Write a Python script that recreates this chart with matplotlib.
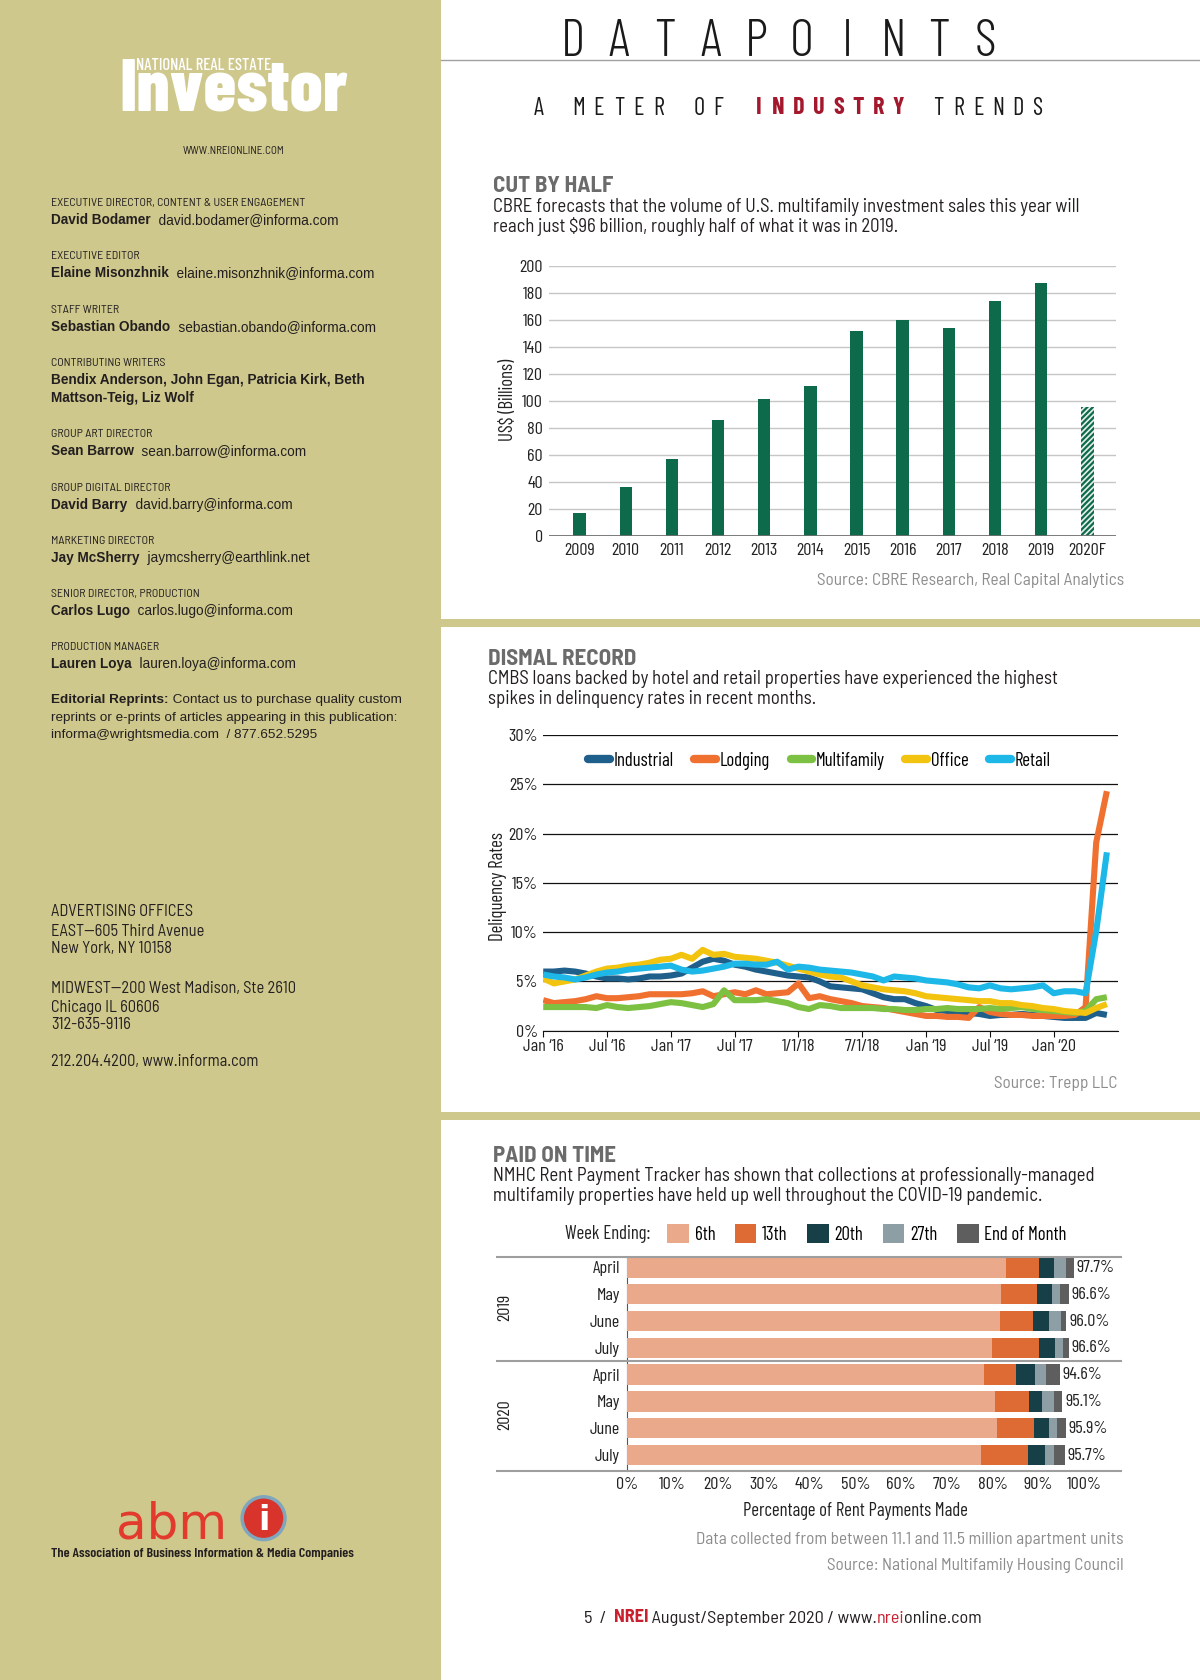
import matplotlib
matplotlib.use("Agg")
import matplotlib.pyplot as plt
from matplotlib.patches import Rectangle, Circle, Patch
from matplotlib.lines import Line2D
import numpy as np

# page is laid out in the coordinates of the 1120x1568 preview
W, H = 1120, 1568
COND = ["Barlow Condensed", "DejaVu Sans"]
SEMI = ["Barlow Semi Condensed", "DejaVu Sans"]
SANS = ["Liberation Sans", "DejaVu Sans"]

KHAKI = "#cfc88c"
DARK = "#231f20"
HEAD = "#6b6b6b"
SRC = "#8c8c8c"
RED = "#a3182d"
GREEN = "#0d6b4c"

plt.rcParams["font.family"] = COND
plt.rcParams["hatch.linewidth"] = 1.6

# ---- chart 1: multifamily investment volume
years = ["2009", "2010", "2011", "2012", "2013", "2014", "2015", "2016", "2017", "2018", "2019", "2020F"]
volume = [17, 36, 57, 86, 101, 111, 152, 160, 154, 174, 187, 95]

# ---- chart 2: CMBS delinquency, monthly Jan 2016 - Jun 2020
month_ticks = [0, 6, 12, 18, 24, 30, 36, 42, 48]
month_labels = ["Jan \u201816", "Jul \u201816", "Jan \u201817", "Jul \u201817", "1/1/18",
                "7/1/18", "Jan \u201819", "Jul \u201819", "Jan \u201820"]
industrial = [6.0, 6.0, 6.1, 6.0, 5.8, 5.5, 5.3, 5.3, 5.2, 5.3, 5.5, 5.5,
              5.6, 5.8, 6.4, 7.0, 7.3, 7.1, 6.7, 6.5, 6.2, 6.0, 5.8, 5.6,
              5.5, 5.4, 5.0, 4.5, 4.4, 4.3, 4.2, 3.8, 3.4, 3.2, 3.2, 2.8,
              2.5, 2.1, 2.0, 1.9, 1.8, 1.7, 1.5, 1.6, 1.6, 1.7, 1.6, 1.5,
              1.4, 1.3, 1.3, 1.3, 1.8, 1.6]
lodging = [3.1, 2.8, 2.9, 3.0, 3.2, 3.5, 3.3, 3.3, 3.4, 3.5, 3.7, 3.7,
           3.7, 3.7, 3.8, 4.0, 3.5, 3.7, 3.9, 3.7, 4.1, 3.7, 3.8, 3.9,
           4.8, 3.3, 3.5, 3.2, 3.0, 2.8, 2.5, 2.4, 2.3, 2.1, 1.9, 1.7,
           1.5, 1.5, 1.4, 1.4, 1.3, 2.4, 1.9, 1.7, 1.6, 1.6, 1.5, 1.5,
           1.5, 1.5, 1.6, 2.4, 19.1, 24.3]
multifamily = [2.4, 2.4, 2.4, 2.4, 2.4, 2.3, 2.6, 2.4, 2.3, 2.4, 2.5, 2.7,
               2.9, 2.8, 2.6, 2.4, 2.7, 4.1, 3.1, 3.1, 3.1, 3.2, 3.0, 2.8,
               2.4, 2.2, 2.6, 2.5, 2.3, 2.3, 2.3, 2.3, 2.2, 2.2, 2.1, 2.1,
               2.2, 2.2, 2.3, 2.2, 2.2, 2.2, 2.3, 2.2, 2.3, 2.4, 2.2, 2.1,
               2.0, 1.9, 1.8, 2.0, 3.2, 3.4]
office = [5.3, 4.8, 5.0, 5.2, 5.6, 6.0, 6.3, 6.4, 6.6, 6.7, 6.9, 7.2,
          7.3, 7.7, 7.3, 8.2, 7.7, 7.8, 7.5, 7.4, 7.3, 7.1, 6.9, 6.6,
          6.3, 6.0, 5.7, 5.5, 5.4, 5.0, 4.6, 4.4, 4.2, 4.1, 4.0, 3.8,
          3.5, 3.4, 3.3, 3.2, 3.1, 3.0, 3.0, 2.8, 2.8, 2.6, 2.5, 2.3,
          2.2, 2.0, 1.9, 1.8, 2.3, 2.7]
retail = [5.7, 5.5, 5.4, 5.2, 5.4, 5.7, 5.9, 6.0, 6.2, 6.3, 6.4, 6.5,
          6.6, 6.2, 6.0, 6.1, 6.3, 6.5, 6.8, 6.8, 6.7, 6.7, 7.0, 6.2,
          6.5, 6.4, 6.2, 6.1, 6.0, 5.9, 5.7, 5.5, 5.1, 5.5, 5.4, 5.3,
          5.1, 5.0, 4.9, 4.7, 4.4, 4.3, 4.6, 4.3, 4.2, 4.3, 4.4, 4.6,
          3.8, 4.0, 4.0, 3.8, 10.1, 18.1]
sectors = ["Industrial", "Lodging", "Multifamily", "Office", "Retail"]
sector_colors = ["#1f5f8b", "#f07030", "#7dc142", "#f2c40f", "#1db8e8"]

# ---- chart 3: cumulative rent paid by week ending (percent)
rent_months = ["April", "May", "June", "July", "April", "May", "June", "July"]
rent_years = ["2019", "2020"]
weeks = ["6th", "13th", "20th", "27th", "End of Month"]
week_colors = ["#e9a98a", "#dd6b33", "#173f47", "#8e9ea5", "#5e5e5e"]
paid_6th = [82.9, 81.7, 81.5, 79.8, 78.0, 80.4, 80.9, 77.5]
paid_13th = [90.2, 89.7, 88.9, 90.2, 85.0, 87.9, 89.1, 87.7]
paid_20th = [93.3, 92.9, 92.2, 93.5, 89.3, 90.8, 92.2, 91.5]
paid_27th = [95.9, 94.8, 95.0, 95.3, 91.7, 93.4, 94.1, 93.4]
paid_end = [97.7, 96.6, 96.0, 96.6, 94.6, 95.1, 95.9, 95.7]

# ---- masthead
staff_titles = ["EXECUTIVE DIRECTOR, CONTENT & USER ENGAGEMENT", "EXECUTIVE EDITOR", "STAFF WRITER",
                "CONTRIBUTING WRITERS", "GROUP ART DIRECTOR", "GROUP DIGITAL DIRECTOR",
                "MARKETING DIRECTOR", "SENIOR DIRECTOR, PRODUCTION", "PRODUCTION MANAGER"]
staff_names = ["David Bodamer", "Elaine Misonzhnik", "Sebastian Obando",
               "Bendix Anderson, John Egan, Patricia Kirk, Beth", "Sean Barrow", "David Barry",
               "Jay McSherry", "Carlos Lugo", "Lauren Loya"]
staff_emails = ["david.bodamer@informa.com", "elaine.misonzhnik@informa.com",
                "sebastian.obando@informa.com", "", "sean.barrow@informa.com",
                "david.barry@informa.com", "jaymcsherry@earthlink.net",
                "carlos.lugo@informa.com", "lauren.loya@informa.com"]
staff_y = [189, 239, 289, 339, 405, 455, 505, 554, 604]


def rect(x0, y0, x1, y1):
    return [x0 / W, 1 - y1 / H, (x1 - x0) / W, (y1 - y0) / H]


fig = plt.figure(figsize=(12, 16.8), dpi=100)
bg = fig.add_axes([0, 0, 1, 1], zorder=0)
bg.set_xlim(0, W)
bg.set_ylim(H, 0)
bg.axis("off")
bg.add_patch(Rectangle((0, 0), 412, H, color=KHAKI, lw=0))
bg.add_patch(Rectangle((412, 578), W - 412, 7, color=KHAKI, lw=0))
bg.add_patch(Rectangle((412, 1038), W - 412, 7, color=KHAKI, lw=0))
bg.plot([412, W], [56, 56], color="#a0a0a0", lw=1)


def chain(x, y, parts, size, family):
    t = None
    for s, weight, color in parts:
        if t is None:
            t = bg.text(x, y, s, fontsize=size, fontweight=weight, color=color,
                        family=family, va="center", ha="left")
        else:
            t = bg.annotate(s, xy=(1, 0), xycoords=t, va="bottom", ha="left", fontsize=size,
                            fontweight=weight, color=color, family=family)
    return t


# ---- left column
bg.text(111, 103, "Investor", fontsize=53, fontweight=800, color="white", va="baseline")
bg.text(127, 61, "NATIONAL REAL ESTATE", fontsize=12, fontweight=500, color="white", va="center")
bg.text(218, 141, "WWW.NREIONLINE.COM", fontsize=8, color=DARK, family=SEMI, va="center", ha="center")

for title, name, mail, y in zip(staff_titles, staff_names, staff_emails, staff_y):
    bg.text(48, y, title, fontsize=8.6, color=DARK, family=SEMI, va="center")
    chain(48, y + 16, [(name, "bold", DARK), ("  " + mail, "normal", DARK)], 9.8, SANS)
    if title == "CONTRIBUTING WRITERS":
        bg.text(48, y + 32, "Mattson-Teig, Liz Wolf", fontsize=9.8, fontweight="bold",
                color=DARK, family=SANS, va="center")

chain(48, 653, [("Editorial Reprints:", "bold", DARK),
                (" Contact us to purchase quality custom", "normal", DARK)], 9.7, SANS)
bg.text(48, 670, "reprints or e-prints of articles appearing in this publication:",
        fontsize=9.7, color=DARK, family=SANS, va="center")
bg.text(48, 686, "informa@wrightsmedia.com  / 877.652.5295", fontsize=9.7, color=DARK,
        family=SANS, va="center")

office_lines = [(851, "ADVERTISING OFFICES"), (869, "EAST\u2014605 Third Avenue"),
                (885, "New York, NY 10158"), (923, "MIDWEST\u2014200 West Madison, Ste 2610"),
                (940, "Chicago IL 60606"), (956, "312-635-9116"),
                (991, "212.204.4200, www.informa.com")]
for y, s in office_lines:
    bg.text(48, y, s, fontsize=11.8, color=DARK, family=SEMI, va="center")

bg.text(108, 1436, "abm", fontsize=36, color="#e23b2e", family=["DejaVu Sans"], va="baseline")
bg.add_patch(Circle((246, 1417), 20, facecolor="#d8342c", edgecolor="#7fa6bd", lw=2.5))
bg.text(246, 1419, "i", fontsize=24, fontweight="bold", color="white", ha="center",
        va="center", family=["DejaVu Sans"])
bg.text(48, 1450, "The Association of Business Information & Media Companies", fontsize=10.2,
        fontweight=600, color=DARK, va="center")

# ---- right column headings
for i, ch in enumerate("DATAPOINTS"):
    bg.text(535 + i * 42.7, 40, ch, fontsize=38, fontweight=300, color="#1a1a1a",
            ha="center", va="center")
tagline = "A METER OF INDUSTRY TRENDS"
for i, ch in enumerate(tagline):
    red = 11 <= i <= 18
    bg.text(503 + i * 18.64, 101, ch, fontsize=17.5, ha="center", va="center",
            color=RED if red else "#1a1a1a", fontweight="bold" if red else "normal")

heads = [(460, 174, "CUT BY HALF",
          ["CBRE forecasts that the volume of U.S. multifamily investment sales this year will",
           "reach just $96 billion, roughly half of what it was in 2019."]),
         (455, 615, "DISMAL RECORD",
          ["CMBS loans backed by hotel and retail properties have experienced the highest",
           "spikes in delinquency rates in recent months."]),
         (460, 1079, "PAID ON TIME",
          ["NMHC Rent Payment Tracker has shown that collections at professionally-managed",
           "multifamily properties have held up well throughout the COVID-19 pandemic."])]
for x, y, head, desc in heads:
    bg.text(x, y, head, fontsize=16.5, fontweight="bold", color=HEAD, family=SEMI, va="center")
    for k, line in enumerate(desc):
        bg.text(x, y + 19 + 18 * k, line, fontsize=13.5, color=DARK, family=SEMI, va="center")

# ---- chart 1
ax1 = fig.add_axes(rect(512, 248, 1042, 500), zorder=2)
ax1.set_facecolor("none")
xb = np.arange(len(years))
ax1.bar(xb[:-1], volume[:-1], width=0.27, color=GREEN, zorder=3)
ax1.bar(xb[-1:], volume[-1:], width=0.27, facecolor="#e6efe9", edgecolor=GREEN,
        hatch="//////", lw=0, zorder=3)
ax1.set_xlim(-0.673, 11.63)
ax1.set_ylim(0, 200)
ax1.set_yticks(range(0, 201, 20))
ax1.set_xticks(xb, years)
ax1.grid(axis="y", color="#c6c6c6", lw=1, zorder=0)
ax1.axhline(0, color="#707070", lw=2, zorder=4)
for s in ax1.spines.values():
    s.set_visible(False)
ax1.tick_params(axis="y", length=0, labelsize=13, labelcolor="#222", pad=4)
ax1.tick_params(axis="x", length=0, labelsize=13, labelcolor="#222", pad=5)
bg.text(474, 373, "US$ (Billions)", rotation=90, fontsize=13.5, color="#222", ha="center", va="center")
bg.text(1049, 542, "Source: CBRE Research, Real Capital Analytics", fontsize=12.4, color=SRC,
        family=SEMI, ha="right", va="center")

# ---- chart 2
ax2 = fig.add_axes(rect(507, 686, 1043, 962), zorder=2)
ax2.set_facecolor("none")
xm = np.arange(len(industrial))
for name, vals, col in zip(sectors, [industrial, lodging, multifamily, office, retail], sector_colors):
    ax2.plot(xm, vals, color=col, lw=4.4, solid_capstyle="butt", solid_joinstyle="round", zorder=3)
ax2.set_xlim(0, 54)
ax2.set_ylim(0, 30)
ax2.set_yticks(range(0, 31, 5), [f"{v}%" for v in range(0, 31, 5)])
ax2.set_xticks(month_ticks, month_labels)
ax2.grid(axis="y", color="#111", lw=0.9, zorder=1)
for k in ["top", "right", "left"]:
    ax2.spines[k].set_visible(False)
ax2.spines["bottom"].set_color("#111")
ax2.tick_params(axis="y", length=0, labelsize=13, labelcolor="#222", pad=4)
ax2.tick_params(axis="x", length=4, direction="out", color="#111", labelsize=13,
                labelcolor="#222", pad=2)
handles = [Line2D([], [], color=c, lw=6, solid_capstyle="round") for c in sector_colors]
ax2.legend(handles, sectors, loc="center", bbox_to_anchor=(0.481, 0.913), ncol=5, frameon=False,
           fontsize=13.5, handlelength=1.15, handletextpad=0.2, columnspacing=1.1,
           borderpad=0, borderaxespad=0)
bg.text(465, 827, "Deliquency Rates", rotation=90, fontsize=13.5, color="#222", ha="center", va="center")
bg.text(1043, 1011, "Source: Trepp LLC", fontsize=12.4, color=SRC, family=SEMI, ha="right", va="center")

# ---- chart 3
ax3 = fig.add_axes(rect(585, 1173, 1047, 1373), zorder=2)
ax3.set_facecolor("none")
rows = np.arange(len(rent_months))
prev = np.zeros(len(rows))
for name, cum, col in zip(weeks, [paid_6th, paid_13th, paid_20th, paid_27th, paid_end], week_colors):
    cum = np.array(cum)
    ax3.barh(rows, cum - prev, left=prev, height=0.76, color=col, label=name, zorder=3)
    prev = cum
for r, tot in zip(rows, paid_end):
    ax3.text(tot + 0.7, r, f"{tot:.1f}%", fontsize=13, color="#222", va="center", ha="left")
ax3.set_xlim(0, 108.2)
ax3.set_ylim(7.6, -0.4)
ax3.set_yticks(rows, rent_months)
ax3.set_xticks(range(0, 101, 10), [f"{v}%" for v in range(0, 101, 10)])
for k in ["top", "right", "bottom"]:
    ax3.spines[k].set_visible(False)
ax3.spines["left"].set_color("#555")
ax3.tick_params(axis="y", length=0, labelsize=13, labelcolor="#222", pad=5)
ax3.tick_params(axis="x", length=0, labelsize=13, labelcolor="#222", pad=4)
ax3.hlines([-0.4, 3.5, 7.6], -28.6, 108.2, colors="#9e9e9e", lw=1.5, clip_on=False, zorder=4)
for i, yr in enumerate(rent_years):
    ax3.text(-26.7, rows[i * 4:(i + 1) * 4].mean(), yr, rotation=90, fontsize=13, color="#222",
             ha="center", va="center")
week_handles = [Patch(facecolor=c, edgecolor="none") for c in week_colors]
ax3.legend(week_handles, weeks, loc="center left", bbox_to_anchor=(0.082, 1.105), ncol=5,
           frameon=False, fontsize=13.5, handlelength=1.15, handleheight=1.15, handletextpad=0.3,
           columnspacing=1.05, borderpad=0, borderaxespad=0)
bg.text(527, 1152, "Week Ending:", fontsize=13.5, color="#222", va="center")
bg.text(798, 1410, "Percentage of Rent Payments Made", fontsize=13.5, color="#222", ha="center", va="center")
bg.text(1049, 1437, "Data collected from between 11.1 and 11.5 million apartment units", fontsize=12.4,
        color=SRC, family=SEMI, ha="right", va="center")
bg.text(1049, 1461, "Source: National Multifamily Housing Council", fontsize=12.4, color=SRC,
        family=SEMI, ha="right", va="center")

# ---- footer
chain(545, 1511, [("5  /  ", "normal", DARK), ("NREI", "bold", "#c8202f"),
                  (" August/September 2020 / www.", "normal", DARK), ("nrei", "normal", "#c8202f"),
                  ("online.com", "normal", DARK)], 13.1, SEMI)

fig.savefig("out.png", dpi=100)
